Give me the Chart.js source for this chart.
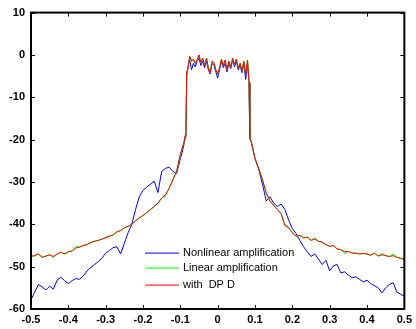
<!DOCTYPE html>
<html>
<head>
<meta charset="utf-8">
<script src="https://cdn.jsdelivr.net/npm/chart.js@4"></script>
<style>
  body { margin: 0; background: #fff; }
  #wrap { width: 416px; height: 329px; }
</style>
</head>
<body>
<div id="wrap"><canvas id="psdChart"></canvas></div>
<script>
// normalized frequency grid shared by all three curves
const freq = [
  -0.50, -0.49, -0.48, -0.47, -0.46, -0.45, -0.44, -0.43, -0.42, -0.41,
  -0.40, -0.39, -0.38, -0.37, -0.36, -0.35, -0.34, -0.33, -0.32, -0.31,
  -0.30, -0.29, -0.28, -0.27, -0.26, -0.25, -0.24, -0.23, -0.22, -0.21,
  -0.20, -0.19, -0.18, -0.17, -0.16, -0.15, -0.14, -0.13, -0.12, -0.11,
  -0.10, -0.095, -0.09, -0.087, -0.085, -0.083,
  -0.080, -0.075, -0.070, -0.065, -0.060, -0.055, -0.050, -0.045, -0.040, -0.035,
  -0.030, -0.025, -0.020, -0.015, -0.010, -0.005, 0.000, 0.005, 0.010, 0.015,
  0.020, 0.025, 0.030, 0.035, 0.040, 0.045, 0.050, 0.055, 0.060, 0.065,
  0.070, 0.075, 0.080, 0.084, 0.086, 0.09, 0.095,
  0.10, 0.11, 0.12, 0.13, 0.14, 0.15, 0.16, 0.17, 0.18, 0.19,
  0.20, 0.21, 0.22, 0.23, 0.24, 0.25, 0.26, 0.27, 0.28, 0.29,
  0.30, 0.31, 0.32, 0.33, 0.34, 0.35, 0.36, 0.37, 0.38, 0.39,
  0.40, 0.41, 0.42, 0.43, 0.44, 0.45, 0.46, 0.47, 0.48, 0.49, 0.50
];

const nonlinearDb = [
  -57.8, -56.0, -54.2, -54.8, -55.5, -54.6, -55.3, -53.2, -52.5, -53.3,
  -54.0, -53.3, -52.8, -53.0, -52.2, -51.0, -50.2, -49.5, -48.8, -48.0,
  -46.8, -46.2, -45.5, -45.3, -47.0, -44.5, -42.0, -40.0, -36.5, -33.5,
  -32.0, -31.2, -30.5, -29.8, -32.5, -27.5, -26.8, -26.5, -27.5, -28.0,
  -24.5, -23.0, -21.0, -19.5, -18.0, -5.0,
  -3.0, -1.2, -3.5, -2.0, -2.8, -1.5, -0.8, -2.5, -1.5, -3.0,
  -1.5, -3.5, -4.5, -2.0, -2.5, -4.0, -5.5, -3.5, -1.5, -3.0,
  -2.0, -4.0, -2.0, -3.2, -1.2, -2.8, -1.5, -3.5, -2.5, -4.2,
  -2.0, -5.8, -2.0, -6.8, -19.8, -20.5, -22.5,
  -24.5, -27.0, -30.5, -34.5, -33.5, -35.0, -35.8, -35.2, -36.5, -39.0,
  -41.0, -42.2, -43.8, -45.3, -46.5, -47.6, -47.0, -48.2, -49.5, -48.5,
  -51.0, -49.8, -49.5, -51.5, -51.2, -52.0, -52.6, -52.4, -53.0, -53.6,
  -53.2, -54.0, -54.5, -55.0, -56.2, -55.0, -54.2, -53.8, -56.0, -56.5, -57.0
];

// linear amplification lies almost exactly under the DPD curve
const linearDb = [
  -47.6, -47.5, -47.0, -47.8, -47.5, -47.2, -47.9, -47.0, -46.6, -47.0,
  -46.5, -46.3, -45.2, -45.4, -45.0, -44.8, -44.3, -44.0, -43.8, -43.5,
  -43.0, -42.8, -42.5, -41.8, -41.5, -40.8, -40.5, -40.0, -39.2, -38.5,
  -37.9, -37.2, -36.5, -35.8, -35.0, -33.8, -33.3, -31.5, -29.5, -27.5,
  -23.5, -22.0, -20.5, -19.0, -18.0, -4.0,
  -3.5, -0.3, -1.5, -1.0, -2.0, -1.2, 0.0, -1.8, -0.8, -2.5,
  -0.8, -3.0, -4.2, -1.5, -1.8, -3.5, -4.5, -3.0, -1.0, -2.5,
  -1.2, -3.5, -1.5, -2.8, -0.8, -2.2, -1.0, -3.0, -2.0, -3.8,
  -1.5, -4.5, -1.2, -6.5, -19.5, -20.5, -22.5,
  -24.5, -26.8, -29.5, -32.8, -34.5, -35.5, -36.5, -37.5, -40.0, -40.8,
  -42.0, -42.8, -42.6, -43.2, -43.0, -43.8, -43.2, -44.0, -44.2, -44.8,
  -45.2, -45.0, -45.8, -46.0, -46.8, -46.4, -46.8, -46.8, -47.0, -46.9,
  -47.0, -47.3, -46.8, -47.5, -46.9, -47.4, -47.6, -47.0, -47.8, -48.0, -48.0
];

const dpdDb = [
  -47.6, -47.3, -47.0, -47.8, -47.5, -47.2, -47.6, -47.0, -46.6, -47.0,
  -46.5, -46.3, -45.6, -45.4, -45.0, -44.8, -44.3, -44.0, -43.8, -43.5,
  -43.2, -42.8, -42.5, -41.8, -41.5, -40.8, -40.5, -40.0, -39.2, -38.5,
  -37.9, -37.2, -36.5, -35.8, -35.0, -33.8, -33.0, -31.5, -29.5, -27.5,
  -23.5, -22.0, -20.5, -19.0, -18.0, -4.0,
  -3.5, -0.3, -1.5, -1.0, -2.0, -1.2, 0.0, -1.8, -0.8, -2.5,
  -0.8, -3.0, -4.2, -1.5, -1.8, -3.5, -4.5, -3.0, -1.0, -2.5,
  -1.2, -3.5, -1.5, -2.8, -0.8, -2.2, -1.0, -3.0, -2.0, -3.8,
  -1.5, -4.5, -1.2, -6.5, -19.5, -20.5, -22.5,
  -24.5, -26.8, -29.5, -32.5, -34.5, -35.5, -36.5, -37.5, -40.3, -40.8,
  -42.0, -42.8, -42.6, -43.2, -43.0, -43.8, -43.5, -44.0, -44.2, -44.8,
  -45.2, -45.0, -45.8, -46.0, -46.5, -46.4, -46.8, -46.8, -47.0, -46.9,
  -47.0, -47.3, -46.8, -47.5, -47.2, -47.4, -47.6, -47.4, -47.8, -48.0, -48.4
];

const seriesNames = ['Nonlinear amplification', 'Linear amplification', 'with  DP D'];
const seriesColors = ['#0000ff', '#00ff00', '#ff0000'];

function toPoints(vals) {
  return freq.map((f, i) => ({ x: f, y: vals[i] }));
}

// matlab style: box round the axes, ticks pointing inward on all sides
const boxTicks = {
  id: 'boxTicks',
  afterDraw(chart) {
    const { ctx, chartArea: a, scales: { x, y } } = chart;
    ctx.save();
    ctx.strokeStyle = '#000';
    ctx.lineWidth = 1;
    ctx.beginPath();
    x.ticks.forEach(t => {
      const px = Math.round(x.getPixelForValue(t.value)) + 0.5;
      ctx.moveTo(px, a.bottom); ctx.lineTo(px, a.bottom - 4);
      ctx.moveTo(px, a.top); ctx.lineTo(px, a.top + 4);
    });
    y.ticks.forEach(t => {
      const py = Math.round(y.getPixelForValue(t.value)) + 0.5;
      ctx.moveTo(a.left, py); ctx.lineTo(a.left + 4, py);
      ctx.moveTo(a.right, py); ctx.lineTo(a.right - 4, py);
    });
    ctx.stroke();
    ctx.lineWidth = 2;
    ctx.strokeRect(a.left, a.top, a.right - a.left, a.bottom - a.top);
    ctx.restore();
  }
};

// legend sits inside the plot, lower middle
const insideLegend = {
  id: 'insideLegend',
  afterDatasetsDraw(chart) {
    const { ctx, chartArea: a } = chart;
    const x0 = a.left + 114, rows = [a.top + 240, a.top + 255, a.top + 272];
    ctx.save();
    ctx.font = '11px "Liberation Sans", Arial, sans-serif';
    ctx.textBaseline = 'middle';
    ctx.lineWidth = 1;
    rows.forEach((ry, i) => {
      ctx.strokeStyle = seriesColors[i];
      ctx.beginPath();
      ctx.moveTo(x0, ry + 0.5);
      ctx.lineTo(x0 + 34, ry + 0.5);
      ctx.stroke();
      ctx.fillStyle = '#000';
      ctx.fillText(seriesNames[i], x0 + 38, ry);
    });
    ctx.restore();
  }
};

const tickFont = { family: '"Liberation Sans", Arial, sans-serif', size: 11, weight: 'bold' };

new Chart(document.getElementById('psdChart'), {
  type: 'line',
  data: {
    datasets: [
      { label: seriesNames[0], data: toPoints(nonlinearDb), borderColor: seriesColors[0], order: 3 },
      { label: seriesNames[1], data: toPoints(linearDb), borderColor: seriesColors[1], order: 2 },
      { label: seriesNames[2], data: toPoints(dpdDb), borderColor: seriesColors[2], order: 1 }
    ]
  },
  options: {
    responsive: true,
    maintainAspectRatio: false,
    animation: false,
    layout: { padding: { top: 10, right: 5, left: 0, bottom: 0 } },
    elements: {
      line: { borderWidth: 1, tension: 0 },
      point: { radius: 0 }
    },
    plugins: {
      legend: { display: false },
      tooltip: { enabled: false }
    },
    scales: {
      x: {
        type: 'linear',
        min: -0.5,
        max: 0.5,
        grid: { display: false, drawTicks: false },
        border: { display: false },
        ticks: {
          stepSize: 0.1,
          padding: 4,
          color: '#000',
          font: tickFont,
          maxRotation: 0,
          callback: v => String(Number(v.toFixed(1)))
        },
        afterFit: s => { s.height = 20; }
      },
      y: {
        min: -60,
        max: 10,
        grid: { display: false, drawTicks: false },
        border: { display: false },
        ticks: { stepSize: 10, padding: 6, color: '#000', font: tickFont },
        afterFit: s => { s.width = 31; }
      }
    }
  },
  plugins: [boxTicks, insideLegend]
});
</script>
</body>
</html>
